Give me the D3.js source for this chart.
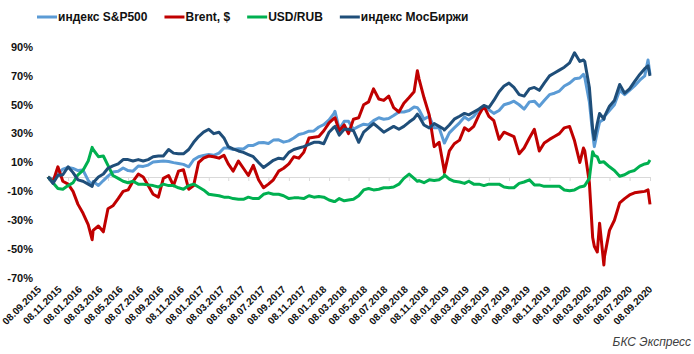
<!DOCTYPE html>
<html><head><meta charset="utf-8">
<script src="https://cdn.jsdelivr.net/npm/d3@7"></script>
<style>
html,body{margin:0;padding:0;background:#fff;}
svg{display:block;font-family:"Liberation Sans",Arial,sans-serif;}
</style></head>
<body><svg id="c" width="694" height="354"></svg>
<script>
const dates = ["2015-09-08","2015-09-23","2015-10-08","2015-10-23","2015-11-08","2015-11-23","2015-12-08","2015-12-23",
"2016-01-08","2016-01-20","2016-01-23","2016-02-08","2016-02-23","2016-03-08","2016-03-23","2016-04-08","2016-04-23",
"2016-05-08","2016-05-23","2016-06-08","2016-06-23","2016-07-08","2016-07-23","2016-08-08","2016-08-23","2016-09-08",
"2016-09-23","2016-10-08","2016-10-23","2016-11-08","2016-11-23","2016-12-08","2016-12-23","2017-01-08","2017-01-23",
"2017-02-08","2017-02-23","2017-03-08","2017-03-23","2017-04-08","2017-04-23","2017-05-08","2017-05-23","2017-06-08",
"2017-06-23","2017-07-08","2017-07-23","2017-08-08","2017-08-23","2017-09-08","2017-09-23","2017-10-08","2017-10-23",
"2017-11-08","2017-11-23","2017-12-08","2017-12-23","2018-01-08","2018-01-23","2018-01-26","2018-02-08","2018-02-23",
"2018-03-08","2018-03-23","2018-04-08","2018-04-23","2018-05-08","2018-05-23","2018-06-08","2018-06-23","2018-07-08",
"2018-07-23","2018-08-08","2018-08-23","2018-09-08","2018-09-23","2018-10-03","2018-10-08","2018-10-23","2018-11-08",
"2018-11-23","2018-12-08","2018-12-23","2018-12-24","2019-01-08","2019-01-23","2019-02-08","2019-02-23","2019-03-08",
"2019-03-23","2019-04-08","2019-04-23","2019-05-08","2019-05-23","2019-06-08","2019-06-23","2019-07-08","2019-07-23",
"2019-08-08","2019-08-23","2019-09-08","2019-09-23","2019-10-08","2019-10-23","2019-11-08","2019-11-23","2019-12-08",
"2019-12-23","2020-01-08","2020-01-23","2020-02-08","2020-02-19","2020-02-23","2020-03-08","2020-03-18","2020-03-23",
"2020-04-01","2020-04-08","2020-04-21","2020-04-23","2020-05-08","2020-05-23","2020-06-08","2020-06-23","2020-07-08",
"2020-07-23","2020-08-08","2020-08-23","2020-09-02","2020-09-08"];

const sp500 = [0,-1.6,2.2,5.4,6.6,5.9,4.4,4.8,
-2.4,-5.6,-3.2,-5.9,-2.5,0.5,3.4,3.9,6.2,
4.4,4,7.6,7.3,8.2,10.4,10.7,11,10.7,
9.9,9.3,8.7,7,11.9,14,14.9,15.6,15,
16.5,20,20,19,19.6,19.3,21.8,21.8,23.6,
23.8,23.1,25.5,25.7,24.1,25,27,29.4,30.2,
31.7,31.9,34.6,36.2,39.5,44,45.5,33,38.5,
38.5,33,35,36.5,36,39,41,40,40.5,
42.5,45,45,46,48.5,48,46.5,40,42,
34,34,24,23.5,30.5,34,37.5,41.5,39.5,
42,46.5,48.5,46.5,44,46,50,51,52.5,
50,47,52,52.5,49,53,57,58,59.5,
63,65,68,68.5,71,69,52,30,21,
31,38,40,42,46,50,60,57,60,
63,67,70,81,71];

const brent = [0,-3.4,7,-3,-5,-10,-19,-25,
-33,-43.5,-37,-34,-38,-22,-20,-15,-10,
-9,-3,2,0,-6,-12,-14,-1,1,
-6,4,5,-8.5,-6,10,13,14.5,14,
13,15,9,4,11,6,1,8,-2,
-7.5,-5,-2,4,6,9,14,13,17,
27,27.5,28,32,37.5,40.5,41,32,36,
30,40,41,50,52,61,54,53,56,
48,45,51,55,59,73.5,68,55,43,
21,24,5,3,18,23,25.5,34,32,
35,43,49,42,39,26,31,29.5,28,
16,20,27,33,18,23.5,26,28,30,
34,35,25,10,20,18,-4,-42,-48,
-52,-32,-61,-55,-37,-30,-18,-15,-12.5,
-11,-10.5,-10,-9,-19];

const usdrub = [0,-4,-8,-8.5,-6,-4,1.5,4.5,
11,20.5,19,14,14.5,8,1,-1,-3,
-4,-3,-5,-5,-5.5,-6,-7,-5,-6,
-6,-7.5,-8.5,-6,-5,-7,-9,-12,-12.5,
-13,-14,-14,-15,-15.5,-15.5,-14,-15,-15,
-12,-11,-12,-12,-13,-15,-14.5,-14.5,-15,
-13,-14,-13.5,-14,-16,-17,-17,-15,-16.5,
-16,-15.5,-13,-9,-8,-9,-8.5,-7.5,-7.5,
-7,-5,-1,2,-1,-3,-2.5,-4,-2,
-2.5,-2,0.5,1.5,-1.5,-3,-3.5,-4.5,-3,
-5,-5,-6,-5,-5,-5,-7,-7.5,-7.5,
-4.5,-3.5,-2,-5.5,-5.5,-6.5,-6.5,-6.5,-6.5,
-9,-9.5,-9,-7,-6.5,-6,-1,17.5,15,
14,10,10.5,10,7,4.5,0.5,1.5,3.5,
4.5,7.5,9,9.5,11.7];

const moex = [0,-4.5,1,1.5,7,3,-2,-3,
-5,-6.5,-4,0,2,6,7.6,9,12,
12,11,12,11,12,14,14.5,14.5,19,
16.5,16,16,19,24,28,31,33,30,
31,27,21,19.5,18,17,15.5,14,10,
6.5,9,11.5,13,12.5,17,19,20,21,
22.5,24,24,23,31,34.5,35,29,33,
33,32,24,31,34,37,34,31,33,
35,33,35,38,40.5,43.5,42,36,34,
37,35,33,32.5,36,40,42,44,43,
45,47,49.5,48,53,59,63,65,62,
57,56,61,62,60,65,70,72,74,
76,79,86,80,81,80,62,33,26,
37,44,40,42,49,53,64,58,61,
66,71,75,77,70];

const seriesNames = ["индекс S&P500","Brent, $","USD/RUB","индекс МосБиржи"];
const seriesColors = ["#5B9BD5","#C00000","#00B050","#1F4E79"];
const yTicks = [90,70,50,30,10,-10,-30,-50,-70];
const xTickLabels = ["08.09.2015","08.11.2015","08.01.2016","08.03.2016","08.05.2016","08.07.2016","08.09.2016",
"08.11.2016","08.01.2017","08.03.2017","08.05.2017","08.07.2017","08.09.2017","08.11.2017","08.01.2018","08.03.2018",
"08.05.2018","08.07.2018","08.09.2018","08.11.2018","08.01.2019","08.03.2019","08.05.2019","08.07.2019","08.09.2019",
"08.11.2019","08.01.2020","08.03.2020","08.05.2020","08.07.2020","08.09.2020"];
const sourceText = "БКС Экспресс";

const parse = d3.timeParse("%Y-%m-%d");
const parseLbl = d3.timeParse("%d.%m.%Y");
const dd = dates.map(parse);
const tickDates = xTickLabels.map(parseLbl);
const allSeries = [sp500, brent, usdrub, moex];

const svg = d3.select("#c");
const x = d3.scaleTime().domain([tickDates[0], tickDates[tickDates.length - 1]]).range([48, 650]);
const y = d3.scaleLinear().domain([-70, 90]).range([278, 47]);
const xl = d3.scalePoint().domain(xTickLabels).range([42, 653]);

// y labels
svg.append("g").selectAll("text").data(yTicks).join("text")
  .attr("x", 33).attr("y", d => y(d)).attr("dy", "0.35em")
  .attr("text-anchor", "end").attr("font-size", 11).attr("font-weight", "bold")
  .attr("fill", "#111").text(d => d + "%");

// x axis at zero
const xAxis = d3.axisBottom(x).tickValues(tickDates).tickSize(4).tickFormat("");
const gx = svg.append("g").attr("transform", `translate(0,${Math.round(y(0))})`).call(xAxis);
gx.select(".domain").attr("stroke", "#d9d9d9").attr("d", `M46,0.5H651`);
gx.selectAll(".tick line").attr("stroke", "#d9d9d9");

// x labels at bottom
svg.append("g").selectAll("text").data(xTickLabels).join("text")
  .attr("transform", d => `translate(${xl(d)},${290}) rotate(-45)`)
  .attr("text-anchor", "end").attr("font-size", 10).attr("font-weight", "bold")
  .attr("fill", "#111").text(d => d);

// lines
const line = d3.line().x((d, i) => x(dd[i])).y(d => y(d)).curve(d3.curveLinear);
allSeries.forEach((s, k) => {
  svg.append("path").datum(s).attr("d", line)
    .attr("fill", "none").attr("stroke", seriesColors[k]).attr("stroke-width", 3)
    .attr("stroke-linejoin", "round");
});

// legend
let lx = 37;
const leg = svg.append("g");
seriesNames.forEach((n, k) => {
  leg.append("line").attr("x1", lx).attr("x2", lx + 20).attr("y1", 17).attr("y2", 17)
    .attr("stroke", seriesColors[k]).attr("stroke-width", 3);
  const t = leg.append("text").attr("x", lx + 21).attr("y", 17).attr("dy", "0.35em")
    .attr("font-size", 12).attr("font-weight", "bold").attr("fill", "#111").text(n);
  lx += 21 + t.node().getComputedTextLength() + 17;
});

svg.append("text").attr("x", 691).attr("y", 346).attr("text-anchor", "end")
  .attr("font-size", 12).attr("font-style", "italic").attr("fill", "#404040").text(sourceText);
</script></body></html>
